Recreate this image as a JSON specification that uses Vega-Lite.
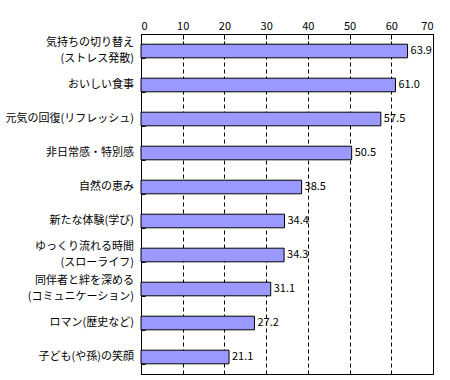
{
  "$schema": "https://vega.github.io/schema/vega-lite/v6.json",
  "width": 292,
  "height": 340,
  "autosize": {"type": "none"},
  "padding": {"left": 141, "top": 34, "right": 17, "bottom": 6},
  "background": "white",
  "config": {
    "view": {"stroke": "black", "strokeWidth": 1},
    "font": "Noto Sans CJK JP"
  },
  "data": {
    "values": [
      {"label": "気持ちの切り替え\n(ストレス発散)", "value": 63.9},
      {"label": "おいしい食事", "value": 61.0},
      {"label": "元気の回復(リフレッシュ)", "value": 57.5},
      {"label": "非日常感・特別感", "value": 50.5},
      {"label": "自然の恵み", "value": 38.5},
      {"label": "新たな体験(学び)", "value": 34.4},
      {"label": "ゆっくり流れる時間\n(スローライフ)", "value": 34.3},
      {"label": "同伴者と絆を深める\n(コミュニケーション)", "value": 31.1},
      {"label": "ロマン(歴史など)", "value": 27.2},
      {"label": "子ども(や孫)の笑顔", "value": 21.1}
    ]
  },
  "encoding": {
    "y": {
      "field": "label",
      "type": "nominal",
      "sort": null,
      "scale": {"paddingInner": 0.6, "paddingOuter": 0.3},
      "axis": {
        "title": null,
        "labels": false,
        "tickBand": "extent",
        "tickSize": -4,
        "tickColor": "black",
        "domainColor": "black"
      }
    },
    "x": {
      "field": "value",
      "type": "quantitative",
      "scale": {"domain": [0, 70], "nice": false},
      "axis": {
        "orient": "top",
        "title": null,
        "values": [0, 10, 20, 30, 40, 50, 60, 70],
        "labelFontSize": 11,
        "labelColor": "black",
        "labelPadding": 8,
        "tickSize": -5,
        "tickColor": "black",
        "domainColor": "black",
        "grid": true,
        "gridColor": "black",
        "gridDash": [4, 3],
        "gridOpacity": 1
      }
    }
  },
  "layer": [
    {
      "mark": {"type": "bar", "fill": "#9999FF", "stroke": "black", "strokeWidth": 1}
    },
    {
      "mark": {"type": "text", "align": "left", "dx": 3, "fontSize": 11, "color": "black"},
      "encoding": {"text": {"field": "value", "type": "quantitative", "format": ".1f"}}
    },
    {
      "transform": [{"filter": "indexof(datum.label, '\\n') < 0"}],
      "mark": {"type": "text", "align": "right", "baseline": "middle", "dx": -7, "fontSize": 11, "color": "black"},
      "encoding": {
        "x": {"datum": 0},
        "text": {"field": "label"}
      }
    },
    {
      "transform": [{"filter": "indexof(datum.label, '\\n') >= 0"}],
      "mark": {"type": "text", "align": "right", "baseline": "middle", "dx": -7, "dy": -8, "fontSize": 11, "lineHeight": 16, "lineBreak": "\n", "color": "black"},
      "encoding": {
        "x": {"datum": 0},
        "text": {"field": "label"}
      }
    }
  ]
}
